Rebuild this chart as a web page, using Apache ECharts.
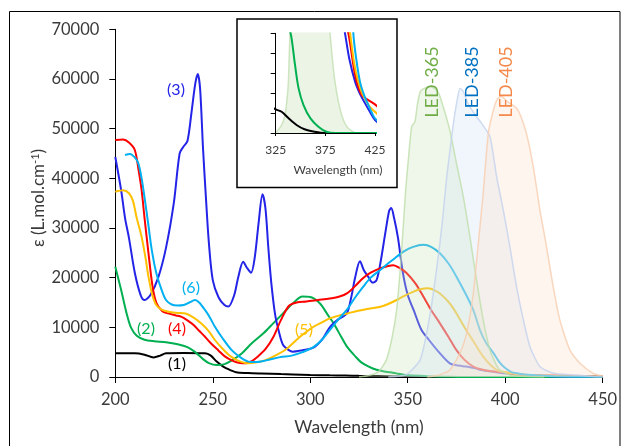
<!DOCTYPE html>
<html><head><meta charset="utf-8">
<script src="https://cdn.jsdelivr.net/npm/echarts@6/dist/echarts.min.js"></script>
<style>html,body{margin:0;padding:0;background:#fff}#c{width:627px;height:446px}</style>
</head><body><div id="c"></div>
<script>
// ---- data (wavelength nm, epsilon) ----
const xTicks = [200, 250, 300, 350, 400, 450];
const yTicks = [0, 10000, 20000, 30000, 40000, 50000, 60000, 70000];
const insetXTicks = [325, 375, 425];

const curve1 = [[200,4770],[210,4770],[215,4500],[219.6,3950],[223,4300],[226,4770],[235,4850],[246,4770],[249,4300],[252,3100],[255,2200],[257,1750],[262,950],[268,800],[275,700],[285,580],[291,520],[300,420],[310,330],[318,280],[325,237],[331,213],[338,147],[346,80],[354,37],[364,13],[375,0],[450,0]];
const curve2 = [[200,22200],[203,17500],[206,12500],[208,10000],[211,8300],[215,7500],[220,7200],[226,7000],[232,6600],[237,6000],[241,5000],[245,3600],[248,2800],[252,2400],[256,2600],[260,3400],[265,4800],[270,6800],[276,8800],[281,10800],[286,12800],[291,14800],[296,16200],[300,16100],[305,14800],[309,12500],[312,10800],[316,8000],[319,6000],[323,4200],[326,3000],[330,2100],[334,1450],[338,1100],[341,950],[344.5,680],[348,450],[353,280],[360,147],[368,63],[376,13],[385,0],[450,0]];
const curve3 = [[200,44300],[203,37600],[205,32000],[207,28000],[210,21000],[213,16500],[215,15500],[218,16500],[222,20000],[226,26000],[230,35000],[233,45000],[235,46400],[237,47500],[239,53000],[241,59000],[242.3,61000],[243.5,58000],[245,46000],[246.5,36000],[248,27000],[250,19500],[253,16000],[256,14500],[258,14200],[261,16500],[263,20000],[265.6,23200],[267.5,22000],[269.6,21000],[271.5,24000],[273.5,31000],[275.5,36800],[277,34000],[278.5,26000],[280,19000],[282,12500],[284,9000],[286,6500],[289,5400],[291,5100],[296,5400],[301.6,5900],[306,7500],[310,10000],[314,11500],[318.7,12800],[321,16000],[323,20000],[325.5,23300],[327.5,21500],[329.7,20200],[332,19000],[334,19500],[336,23000],[338.5,29000],[340.5,33500],[341.5,34000],[343,32000],[345,28000],[347.5,21000],[350,16500],[353,13500],[357,9500],[361,7400],[366,5000],[371.6,2750],[376,2300],[380,2100],[384,1800],[388,1400],[391,1200],[394.8,1000],[399,750],[405,513],[410,390],[415,297],[420,210],[425,130],[435,60],[450,20]];
const curve4 = [[200,47700],[204,47800],[207,47200],[210,45700],[212,41500],[213.5,37600],[215,32000],[217,25000],[219,18500],[221,15000],[224,13300],[227,12800],[231,12400],[234,12100],[237,11400],[240,10500],[243,9300],[246,8100],[249,6800],[253,5300],[256,4200],[260,3300],[264,2800],[267,2750],[270,3200],[273,4100],[277,5600],[281,8000],[285,11500],[289,14300],[293,15000],[298,15200],[304,15500],[310,15800],[315,16200],[319,16900],[323,18300],[327,19900],[331,21000],[336,21900],[342.6,22500],[346,21900],[349.5,20900],[354,18800],[358,16200],[362,13500],[366.5,10800],[371,8000],[375,5400],[379,3500],[383.6,2100],[388,1500],[393,1150],[398.2,997],[405,580],[411.6,380],[418.3,330],[425,287],[435,200],[450,120]];
const curve5 = [[200,37300],[204,37600],[207,37000],[209,35500],[211,32000],[213.5,28200],[215.5,24000],[217,20200],[219,16500],[221,14500],[224,13500],[228,13100],[232,12900],[236,12800],[240,12000],[244,10800],[248,9200],[251,7500],[255,5700],[259,4200],[263,3300],[268,2750],[272,2900],[277,3400],[283,4500],[288,5700],[293,7500],[297,8800],[301.6,10100],[306,11000],[310,11800],[315,12400],[319,12800],[324,13300],[328,13600],[336,14150],[340,14700],[344.3,15500],[348,16300],[353,17200],[357,17700],[360,17850],[363,17600],[366.5,16800],[371.6,14800],[375,12800],[380,9450],[384,7000],[388.7,4100],[393,2200],[396,1350],[400,997],[404,700],[408.2,513],[412,400],[416.6,313],[420,260],[425,213],[435,120],[450,60]];
const curve6 = [[205,44700],[207.5,44900],[210,44200],[211.8,43000],[213.5,40000],[215.2,35600],[217,30500],[218.7,25600],[221,21000],[223.8,17500],[226,15500],[228.9,14600],[232,14400],[235,14500],[238,15000],[240.9,15500],[243,15000],[246,13500],[248.5,12000],[251.1,10100],[255,7800],[259.7,5400],[264,4000],[268.2,3100],[272,3000],[276.8,3300],[284.5,4000],[290.5,4300],[296,5000],[301.6,6000],[306,7500],[310,9450],[314,11400],[318.7,13500],[323,16000],[327.2,18200],[331,20000],[335.7,21500],[340,22900],[344.3,24200],[348,25300],[352.8,26200],[358,26600],[362,26200],[366.5,24900],[371,22800],[375,20200],[380,16500],[383.6,13500],[387,9500],[390,7000],[394,4800],[397,3000],[400,1800],[403.2,997],[406,750],[409.9,513],[414,380],[418.3,280],[422,200],[425,147],[435,70],[450,30]];

const led365 = [[325,0],[330,300],[335,1070],[339,3400],[342,8000],[344.3,13500],[346,21000],[347.7,30300],[349,38000],[350.3,43700],[352,50400],[353.7,51400],[355,55000],[356.5,57500],[358,58000],[361,58500],[364,58000],[366,57000],[368.2,54400],[370,52000],[371.6,49700],[373.5,46000],[375,43000],[378.5,36300],[381.9,28200],[385.3,19500],[388.7,11500],[392.2,5400],[395,2800],[397.3,1400],[402.4,400],[410,100],[420,0]];
const led385 = [[340,0],[348,300],[351.2,1070],[356.3,3400],[359.7,8800],[363.1,16800],[366.5,26900],[368.2,33000],[370,40300],[373.4,51000],[375,55000],[376.8,58100],[378.5,57500],[381,55000],[385.3,52400],[388,51000],[392.2,48400],[395.6,40300],[399,33600],[402.4,26200],[405.8,18200],[409.3,11500],[412.7,6100],[417.8,2100],[424.7,740],[436.6,400],[445,100],[450,0]];
const led405 = [[360,0],[366,400],[371.6,1400],[376.8,4800],[380.2,8800],[383.6,16800],[386.2,26900],[388.7,37000],[391.3,49000],[393.9,53700],[396,56000],[398,56500],[401,55500],[405.8,54100],[408,52500],[410.9,49000],[414.4,42300],[417.8,33600],[421.2,26200],[424.6,18200],[428,11500],[433.2,5400],[438.3,2750],[445.1,740],[450,200]];
// LED-365 as drawn in the inset (its own scale, clipped at the top)
const led365Inset = [[325,0],[331,80],[334.4,180],[336.5,350],[337.8,513],[339.4,1000],[340.5,1100],[378.5,1100],[379.7,1000],[382,750],[384.7,513],[388,320],[391.4,180],[394.5,100],[398,47],[404.9,0]];

const labels = ["(1)", "(2)", "(3)", "(4)", "(5)", "(6)"];
const ledNames = ["LED-365", "LED-385", "LED-405"];

// ---- chart ----
const FONT = 'Lato';
const TXT = '#3a3a3a';
const colors = ['#000000', '#00B050', '#2424E8', '#FF0000', '#FFC000', '#00B0F0'];
const curves = [curve1, curve2, curve3, curve4, curve5, curve6];
const leds = [led365, led385, led405];
const ledFill = ['rgba(205,228,190,0.45)', 'rgba(212,226,246,0.45)', 'rgba(252,222,202,0.45)'];
const ledLine = ['rgba(190,222,170,0.8)', 'rgba(195,210,238,0.8)', 'rgba(248,205,175,0.8)'];
const ledText = ['#70AD47', '#0070C0', '#F4894B'];

const series = [];
curves.forEach((d, i) => {
  series.push({type:'line', xAxisIndex:0, yAxisIndex:0, data:d, showSymbol:false, smooth:0.3,
    lineStyle:{color:colors[i], width:2}, z:2, silent:true});
});
leds.forEach((d, i) => {
  series.push({type:'line', xAxisIndex:0, yAxisIndex:0, data:d, showSymbol:false, smooth:0.2,
    lineStyle:{color:ledLine[i], width:1.5}, areaStyle:{color:ledFill[i], origin:'start'}, z:3, silent:true});
});
// inset
series.push({type:'line', xAxisIndex:1, yAxisIndex:1, data:led365Inset, showSymbol:false, smooth:0.2, clip:true,
  lineStyle:{color:'rgba(200,226,185,0.9)', width:1.5}, areaStyle:{color:'rgba(226,240,218,1)'}, z:5, silent:true});
[0,1,2,3,4,5].forEach(i => {
  series.push({type:'line', xAxisIndex:1, yAxisIndex:1, data:curves[i], showSymbol:false, smooth:0.3, clip:true,
    lineStyle:{color:colors[i], width:2}, z:6, silent:true});
});

const labelPos = [[177,364],[146,329],[176,90],[177,329],[304,330],[191,288]];
const ledLabelPos = [[432.5,82],[472.5,82],[506,82]];

const graphic = [
  {type:'rect', shape:{x:9.5, y:11.5, width:610.5, height:450}, style:{fill:null, stroke:'#000', lineWidth:1}, z:-10},
  {type:'rect', shape:{x:237, y:19, width:160, height:168.5}, style:{fill:'#fff', stroke:'#000', lineWidth:1.5}, z:-5},
  {type:'text', x:359, y:427, style:{text:'Wavelength (nm)', font:'17.5px '+FONT, fill:TXT, textAlign:'center', textVerticalAlign:'middle'}, z:10},
  {type:'text', x:338, y:170, style:{text:'Wavelength (nm)', font:'12px '+FONT, fill:TXT, textAlign:'center', textVerticalAlign:'middle'}, z:10},
  {type:'text', x:39, y:198, rotation:Math.PI/2, style:{
      text:'ε (L.mol.cm{s|-1})', font:'17px '+FONT, fill:TXT, textAlign:'center', textVerticalAlign:'middle',
      rich:{s:{fontSize:11, fontFamily:FONT, fill:TXT, textFill:TXT, verticalAlign:'top', padding:[0,0,8,0]}}}, z:10}
];
labels.forEach((t, i) => graphic.push({type:'text', x:labelPos[i][0], y:labelPos[i][1],
  style:{text:t, font:'16px '+FONT, fill:colors[i], textAlign:'center', textVerticalAlign:'middle'}, z:10}));
ledNames.forEach((t, i) => graphic.push({type:'text', x:ledLabelPos[i][0], y:ledLabelPos[i][1], rotation:Math.PI/2,
  style:{text:t, font:'18px '+FONT, fill:ledText[i], textAlign:'center', textVerticalAlign:'middle'}, z:10}));

const plain = v => String(v);
const chart = echarts.init(document.getElementById('c'), null, {renderer:'canvas'});
chart.setOption({
  animation:false,
  backgroundColor:'#fff',
  grid:[
    {left:115.3, top:29.3, width:487.4, height:347.7},
    {left:275.7, top:33.3, width:99.3, height:99.7}
  ],
  xAxis:[
    {type:'value', gridIndex:0, min:xTicks[0], max:xTicks[xTicks.length-1], interval:50,
     axisLine:{lineStyle:{color:'#000', width:1}}, axisTick:{length:6, lineStyle:{color:'#000'}},
     splitLine:{show:false}, axisLabel:{margin:14, fontFamily:FONT, fontSize:16.5, color:TXT, formatter:plain}},
    {type:'value', gridIndex:1, min:insetXTicks[0], max:insetXTicks[insetXTicks.length-1], interval:50, z:8,
     axisLine:{lineStyle:{color:'#000', width:1}}, axisTick:{length:3, lineStyle:{color:'#000'}},
     splitLine:{show:false}, axisLabel:{margin:11, fontFamily:FONT, fontSize:12, color:TXT, formatter:plain}}
  ],
  yAxis:[
    {type:'value', gridIndex:0, min:yTicks[0], max:yTicks[yTicks.length-1], interval:10000,
     axisLine:{show:true, lineStyle:{color:'#000', width:1}}, axisTick:{show:true, length:6, lineStyle:{color:'#000'}},
     splitLine:{show:false}, axisLabel:{margin:16, fontFamily:FONT, fontSize:16.5, color:TXT, formatter:plain}},
    {type:'value', gridIndex:1, min:0, max:1000, interval:200, z:8,
     axisLine:{show:true, lineStyle:{color:'#000', width:1}}, axisTick:{show:true, length:5, lineStyle:{color:'#000'}},
     splitLine:{show:false}, axisLabel:{show:false}}
  ],
  series: series,
  graphic: graphic
});
</script></body></html>
